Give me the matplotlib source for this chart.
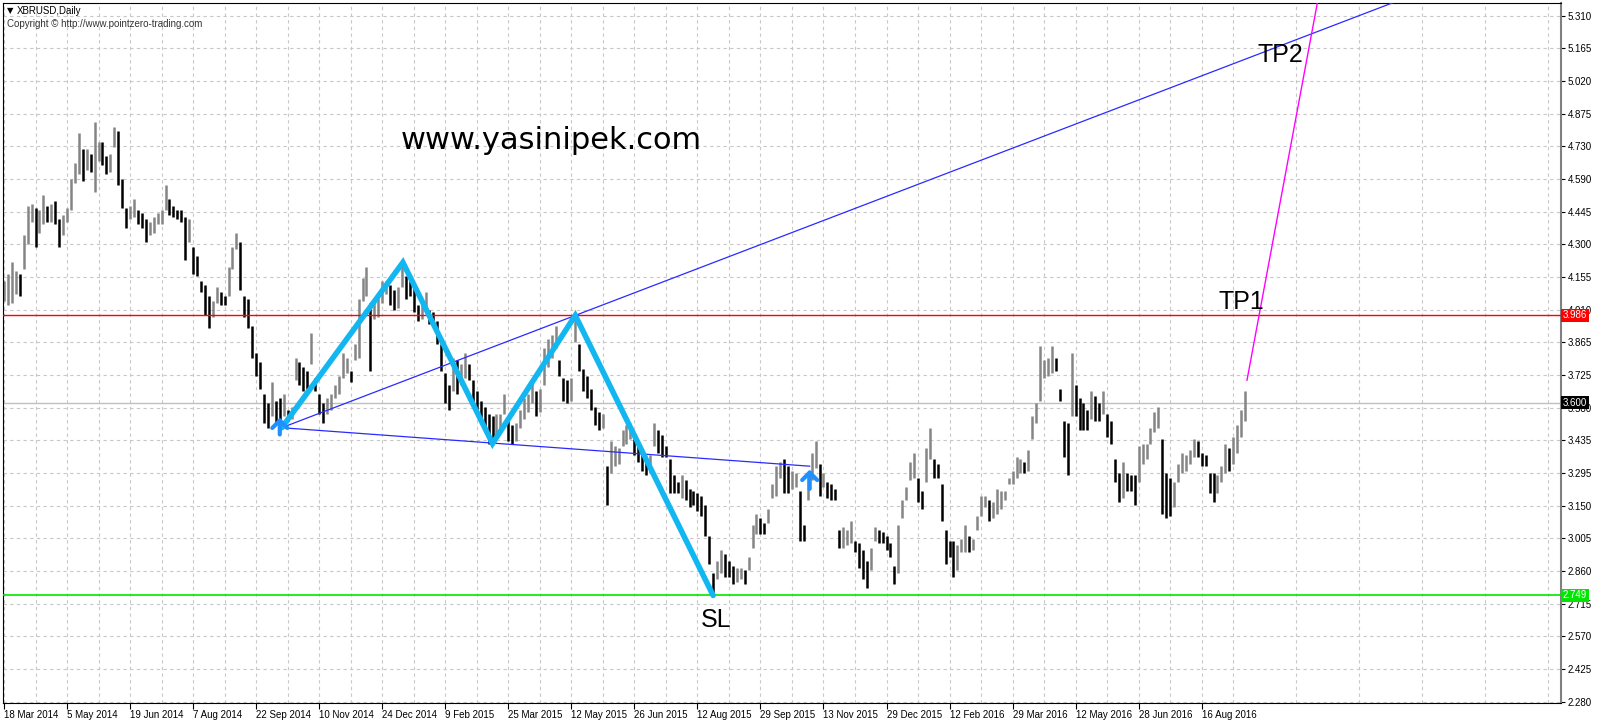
import numpy as np
import matplotlib
matplotlib.use("Agg")
import matplotlib.pyplot as plt

plt.rcParams['font.family'] = ['Liberation Sans', 'DejaVu Sans']

# ========================
# DATA (XBRUSD daily, one entry = 2 trading days)
# ========================
highs = [
    4.14, 4.17, 4.22, 4.18, 4.17, 4.34, 4.47, 4.48, 4.46, 4.45,
    4.52, 4.47, 4.48, 4.49, 4.41, 4.43, 4.46, 4.59, 4.66, 4.79,
    4.72, 4.72, 4.70, 4.84, 4.75, 4.75, 4.69, 4.70, 4.82, 4.80,
    4.59, 4.46, 4.47, 4.50, 4.45, 4.44, 4.41, 4.40, 4.42, 4.44,
    4.45, 4.56, 4.50, 4.47, 4.45, 4.45, 4.42, 4.41, 4.29, 4.25,
    4.14, 4.12, 4.07, 4.05, 4.11, 4.09, 4.07, 4.20, 4.29, 4.35,
    4.31, 4.07, 4.06,
    3.94, 3.82, 3.78, 3.64, 3.60, 3.69, 3.61, 3.62, 3.64, 3.57,
    3.58, 3.80, 3.78, 3.76, 3.74, 3.91, 3.71, 3.64, 3.60, 3.62,
    3.64, 3.68, 3.72, 3.82, 3.80, 3.74, 3.86, 4.06, 4.15, 4.20,
    4.04, 4.05, 4.07, 4.14, 4.14, 4.12, 4.10, 4.11, 4.22, 4.16,
    4.14, 4.12, 4.03, 4.04, 4.09, 4.01, 4.00, 3.96, 3.86, 3.73,
    3.68, 3.80, 3.79, 3.77, 3.82, 3.77, 3.70, 3.65, 3.61, 3.58,
    3.55, 3.54,
    3.55, 3.55, 3.64, 3.52, 3.50, 3.51, 3.57, 3.62, 3.64, 3.69,
    3.65, 3.66, 3.84, 3.88, 3.90, 3.94, 3.79, 3.71, 3.70, 3.71,
    3.98, 3.86, 3.75, 3.72, 3.66, 3.58, 3.56, 3.55, 3.32, 3.43,
    3.41, 3.40, 3.48, 3.50, 3.51, 3.44, 3.41, 3.38, 3.36, 3.37,
    3.51, 3.48, 3.46, 3.41, 3.35, 3.28, 3.25, 3.28, 3.26, 3.22,
    3.21, 3.20, 3.19, 3.15, 3.01, 2.85, 2.90, 2.95, 2.93, 2.90,
    2.88, 2.87,
    2.87, 2.86, 2.92, 3.06, 3.11, 3.09, 3.07, 3.13, 3.24, 3.32,
    3.34, 3.35, 3.32, 3.30, 3.29, 3.21, 3.06, 3.29, 3.38, 3.43,
    3.33, 3.29, 3.25, 3.24, 3.22, 3.04, 3.05, 3.04, 3.08, 2.99,
    2.98, 2.95, 2.90, 2.96, 3.05, 3.04, 3.03, 3.01, 2.98, 2.88,
    3.06, 3.17, 3.23, 3.34, 3.38, 3.27, 3.21, 3.40, 3.49, 3.35,
    3.33, 3.24, 3.04, 2.99, 2.99, 2.97, 3.00, 3.06, 3.01, 3.00,
    3.10, 3.19,
    3.19, 3.17, 3.16, 3.22, 3.21, 3.21, 3.27, 3.30, 3.36, 3.35,
    3.34, 3.39, 3.54, 3.60, 3.85, 3.79, 3.80, 3.85, 3.80, 3.66,
    3.52, 3.51, 3.82, 3.68, 3.62, 3.60, 3.57, 3.65, 3.63, 3.60,
    3.65, 3.55, 3.52, 3.35, 3.29, 3.34, 3.29, 3.28, 3.28, 3.41,
    3.42, 3.42, 3.49, 3.56, 3.58, 3.44, 3.29, 3.27, 3.25, 3.33,
    3.38, 3.37, 3.39, 3.44, 3.43, 3.38, 3.37, 3.29, 3.29, 3.28,
    3.32, 3.42, 3.40, 3.45, 3.50, 3.57, 3.65,
]
lows = [
    4.05, 4.03, 4.04, 4.08, 4.07, 4.19, 4.30, 4.40, 4.29, 4.35,
    4.39, 4.40, 4.40, 4.39, 4.29, 4.34, 4.40, 4.45, 4.57, 4.61,
    4.58, 4.63, 4.62, 4.53, 4.67, 4.65, 4.61, 4.62, 4.73, 4.56,
    4.46, 4.37, 4.41, 4.42, 4.39, 4.37, 4.31, 4.34, 4.35, 4.39,
    4.39, 4.45, 4.43, 4.42, 4.41, 4.40, 4.23, 4.31, 4.17, 4.16,
    4.09, 3.99, 3.93, 3.98, 4.04, 4.03, 4.03, 4.07, 4.19, 4.28,
    4.10, 3.98, 3.93,
    3.80, 3.72, 3.66, 3.51, 3.49, 3.54, 3.51, 3.49, 3.54, 3.52,
    3.53, 3.70, 3.68, 3.65, 3.66, 3.77, 3.65, 3.55, 3.51, 3.55,
    3.57, 3.62, 3.64, 3.71, 3.73, 3.69, 3.79, 3.80, 4.05, 4.07,
    3.74, 3.97, 3.98, 4.04, 4.08, 4.03, 4.01, 4.02, 4.11, 4.06,
    4.07, 4.00, 3.96, 3.97, 4.01, 3.95, 3.95, 3.86, 3.74, 3.60,
    3.57, 3.65, 3.64, 3.68, 3.71, 3.70, 3.60, 3.57, 3.51, 3.48,
    3.42, 3.42,
    3.45, 3.47, 3.55, 3.43, 3.42, 3.43, 3.49, 3.53, 3.56, 3.60,
    3.54, 3.56, 3.68, 3.76, 3.80, 3.84, 3.72, 3.61, 3.60, 3.61,
    3.87, 3.74, 3.65, 3.62, 3.57, 3.50, 3.48, 3.49, 3.15, 3.29,
    3.32, 3.33, 3.41, 3.42, 3.44, 3.37, 3.34, 3.30, 3.28, 3.29,
    3.41, 3.38, 3.36, 3.36, 3.20, 3.20, 3.20, 3.18, 3.17, 3.14,
    3.15, 3.12, 3.10, 3.01, 2.89, 2.75, 2.82, 2.85, 2.83, 2.83,
    2.80, 2.81,
    2.82, 2.80, 2.86, 2.96, 3.02, 3.02, 3.02, 3.07, 3.18, 3.19,
    3.27, 3.20, 3.20, 3.22, 3.23, 2.99, 2.99, 3.17, 3.26, 3.31,
    3.19, 3.23, 3.18, 3.17, 3.17, 2.96, 2.96, 2.97, 2.98, 2.94,
    2.87, 2.82, 2.78, 2.86, 2.99, 2.98, 2.98, 2.95, 2.92, 2.80,
    2.85, 3.09, 3.17, 3.26, 3.27, 3.16, 3.13, 3.25, 3.35, 3.27,
    3.27, 3.08, 2.89, 2.92, 2.83, 2.86, 2.94, 2.94, 2.94, 2.95,
    3.04, 3.10,
    3.14, 3.08, 3.09, 3.11, 3.13, 3.17, 3.24, 3.24, 3.27, 3.29,
    3.29, 3.30, 3.44, 3.51, 3.61, 3.71, 3.72, 3.73, 3.74, 3.61,
    3.36, 3.28, 3.54, 3.54, 3.48, 3.48, 3.48, 3.53, 3.52, 3.52,
    3.55, 3.45, 3.42, 3.25, 3.16, 3.18, 3.21, 3.21, 3.15, 3.25,
    3.33, 3.35, 3.42, 3.47, 3.49, 3.11, 3.09, 3.10, 3.14, 3.25,
    3.29, 3.30, 3.33, 3.36, 3.36, 3.32, 3.32, 3.20, 3.16, 3.20,
    3.25, 3.29, 3.30, 3.33, 3.38, 3.45, 3.52,
]

date_labels = ["18 Mar 2014", "5 May 2014", "19 Jun 2014", "7 Aug 2014", "22 Sep 2014",
               "10 Nov 2014", "24 Dec 2014", "9 Feb 2015", "25 Mar 2015", "12 May 2015",
               "26 Jun 2015", "12 Aug 2015", "29 Sep 2015", "13 Nov 2015", "29 Dec 2015",
               "12 Feb 2016", "29 Mar 2016", "12 May 2016", "28 Jun 2016", "16 Aug 2016"]
price_labels = ["5.310", "5.165", "5.020", "4.875", "4.730", "4.590", "4.445", "4.300",
                "4.155", "4.010", "3.865", "3.725", "3.580", "3.435", "3.295", "3.150",
                "3.005", "2.860", "2.715", "2.570", "2.425", "2.280"]

# drawn objects (x in trading days from 18 Mar 2014)
zigzag_x = [141, 202.5, 248, 290, 360]
zigzag_y = [3.49, 4.22, 3.42, 3.986, 2.749]
upper_x = [141, 720]
upper_y = [3.49, 5.417]
lower_x = [141, 409]
lower_y = [3.49, 3.32]
proj_x = [631, 667]
proj_y = [3.70, 5.38]
arrows = [(140, 3.46, 3.535), (409, 3.22, 3.305)]
tp_level = 3.986
sl_level = 2.749
bid_level = 3.600

# ========================
# FIGURE
# ========================
fig = plt.figure(figsize=(16, 7.25), dpi=100)
ax = fig.add_axes([3 / 1600, 22 / 725, 1558 / 1600, 700 / 725])

highs = np.array(highs)
lows = np.array(lows)
days = np.arange(len(highs)) * 2
mid = (highs + lows) / 2
up = np.r_[True, mid[1:] >= mid[:-1]]
cols = np.where(up, "#858585", "#000000")
ax.vlines(days, lows, highs, colors=cols, lw=1.8, zorder=2)

# horizontal levels
ax.axhline(tp_level, color="#ff0000", lw=1, zorder=3)
ax.axhline(sl_level, color="#00e600", lw=1.2, zorder=3)
ax.axhline(bid_level, color="#c0c0c0", lw=1, zorder=1.5)

# trend lines
ax.plot(upper_x, upper_y, color="#2a2aff", lw=0.9, zorder=4)
ax.plot(lower_x, lower_y, color="#2a2aff", lw=0.9, zorder=4)
ax.plot(proj_x, proj_y, color="#ff00ff", lw=1, zorder=4)
ax.plot(zigzag_x, zigzag_y, color="#12b6f0", lw=4, zorder=5,
        solid_capstyle="round", solid_joinstyle="miter")

for ax_x, y0, y1 in arrows:
    ax.annotate("", xy=(ax_x, y1), xytext=(ax_x, y0), zorder=6,
                arrowprops=dict(arrowstyle="->,head_length=0.45,head_width=0.45",
                                color="#1e90ff", lw=3, mutation_scale=12,
                                shrinkA=0, shrinkB=0))

# texts
ax.text(277.7, 4.757, "www.yasinipek.com", fontsize=22, family="DejaVu Sans",
        ha="center", va="center", zorder=7)
ax.text(647.7, 5.136, "TP2", fontsize=18, ha="center", va="center", zorder=7)
ax.text(628.4, 4.045, "TP1", fontsize=18, ha="center", va="center", zorder=7)
ax.text(361.4, 2.641, "SL", fontsize=18, ha="center", va="center", zorder=7)

# axes
ax.set_xlim(-0.5, 790.4)
ax.set_ylim(2.274, 5.366)
step = (5.310 - 2.280) / 21
yt = [5.310 - k * step for k in range(len(price_labels))]
ax.yaxis.tick_right()
ax.set_yticks(yt)
ax.set_yticklabels(price_labels)
ax.tick_params(axis="y", length=3, pad=2, labelsize=7, colors="black")

xt = [32 * k for k in range(len(date_labels))]
ax.set_xticks(xt)
ax.set_xticklabels(date_labels)
for lab in ax.get_xticklabels():
    lab.set_ha("left")
ax.set_xticks([16 + 32 * k for k in range(25)], minor=True)
ax.tick_params(axis="x", which="major", length=4, pad=1, labelsize=7)
ax.tick_params(axis="x", which="minor", length=0)

ax.grid(True, axis="y", color="#c8c8c8", lw=0.8, ls=(0, (3, 3)))
ax.grid(True, axis="x", which="both", color="#c8c8c8", lw=0.8, ls=(0, (3, 3)))
ax.set_axisbelow(True)
for s in ["top", "left", "bottom"]:
    ax.spines[s].set_color("black")
ax.spines["right"].set_color("#808080")
ax.spines["right"].set_linewidth(1.5)

# price boxes on the right scale
tr = ax.get_yaxis_transform()
for val, txt, bg in [(tp_level, "3.986", "#ff0000"), (bid_level, "3.600", "#000000"),
                     (sl_level, "2.749", "#00e600")]:
    ax.text(1.0012, val, txt, transform=tr, fontsize=7, color="white", ha="left",
            va="center", clip_on=False, zorder=10,
            bbox=dict(boxstyle="square,pad=0.15", fc=bg, ec="none"))

# header
fig.text(7 / 1600, 1 - 10.5 / 725, "\u25bc", fontsize=6, va="center", family="DejaVu Sans")
fig.text(17 / 1600, 1 - 10.5 / 725, "XBRUSD,Daily", fontsize=7, va="center")
fig.text(7 / 1600, 1 - 24 / 725, "Copyright \u00a9 http://www.pointzero-trading.com",
         fontsize=7, va="center", color="#333333")

fig.savefig("out.png", dpi=100)
